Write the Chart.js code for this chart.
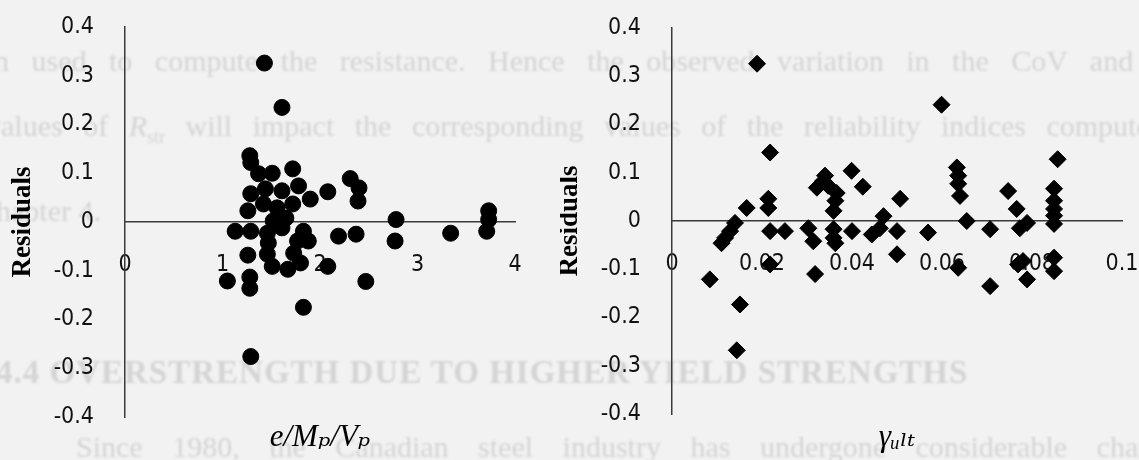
<!DOCTYPE html>
<html>
<head>
<meta charset="utf-8">
<script src="https://cdn.jsdelivr.net/npm/chart.js@4"></script>
<style>
  html, body { margin: 0; padding: 0; background: #f2f2f2; }
  #sheet { position: relative; width: 1139px; height: 460px; overflow: hidden; background: #f2f2f2; }
  .bleed { position: absolute; white-space: nowrap; font-family: "Liberation Serif", serif; font-size: 30px;
           color: #d4d4d4; filter: blur(0.8px); line-height: 1; }
  .bleed.bold { font-weight: bold; font-size: 33px; letter-spacing: 1px; }
  .panel { position: absolute; top: 0; height: 460px; }
</style>
</head>
<body>
<div id="sheet">
  <div class="bleed" style="left:-6px; top:46px; word-spacing:15px;">n used to compute the resistance. Hence the observed variation in the CoV and</div>
  <div class="bleed" style="left:-14px; top:111px; word-spacing:13px;">values of <i>R</i><sub style="font-size:18px">str</sub> will impact the corresponding values of the reliability indices computed</div>
  <div class="bleed" style="left:-24px; top:196px;">Chapter 4.</div>
  <div class="bleed bold" style="left:-4px; top:356px;">4.4 OVERSTRENGTH DUE TO HIGHER YIELD STRENGTHS</div>
  <div class="bleed" style="left:76px; top:432px; word-spacing:22px;">Since 1980, the Canadian steel industry has undergone considerable changes</div>
  <div class="panel" style="left:0; width:560px;"><canvas id="left"></canvas></div>
  <div class="panel" style="left:560px; width:579px;"><canvas id="right"></canvas></div>
</div>
<script>
// Residuals against normalised eccentricity e/Mp/Vp
const eccX = [1.43, 1.61, 1.28, 1.29, 1.37, 1.51, 1.72, 1.78, 2.08, 2.31, 2.40, 2.39, 1.90, 1.29, 1.44, 1.61,
              1.26, 1.42, 1.56, 1.72, 1.65, 1.52, 1.13, 1.29, 1.46, 1.61, 1.83, 1.47, 1.77, 1.88, 1.46, 1.26,
              1.73, 1.51, 1.67, 1.80, 2.08, 2.19, 2.37, 2.78, 2.77, 1.05, 1.28, 1.28, 2.47, 1.83, 1.29, 3.34,
              3.73, 3.73, 3.71];
const eccResid = [0.326, 0.235, 0.136, 0.122, 0.099, 0.100, 0.109, 0.074, 0.062, 0.089, 0.070, 0.043, 0.047, 0.058, 0.068, 0.064,
                  0.023, 0.037, 0.029, 0.037, 0.008, 0.002, -0.019, -0.019, -0.023, -0.012, -0.019, -0.043, -0.039, -0.039, -0.066, -0.068,
                  -0.064, -0.091, -0.097, -0.084, -0.091, -0.029, -0.025, 0.005, -0.039, -0.121, -0.113, -0.136, -0.122, -0.175, -0.276, -0.023,
                  0.023, 0.005, -0.019];

// Residuals against ultimate rotation gamma_ult
const gamX = [0.0189, 0.0599, 0.0218, 0.0857, 0.0399, 0.0424, 0.0633, 0.0636, 0.0636, 0.0640, 0.0747, 0.0766, 0.0789, 0.0773,
              0.0849, 0.0849, 0.0849, 0.0849, 0.0849, 0.0849, 0.0849, 0.0789, 0.0780, 0.0769, 0.0707, 0.0707, 0.0655, 0.0636,
              0.0569, 0.0507, 0.0500, 0.0500, 0.0470, 0.0462, 0.0444, 0.0400, 0.0336, 0.0322, 0.0347, 0.0366, 0.0363, 0.0359,
              0.0359, 0.0359, 0.0363, 0.0303, 0.0314, 0.0318, 0.0251, 0.0218, 0.0214, 0.0214, 0.0218, 0.0166, 0.0140, 0.0129,
              0.0118, 0.0110, 0.0084, 0.0151, 0.0144, 0.0340];
const gamResid = [0.326, 0.241, 0.142, 0.128, 0.104, 0.071, 0.111, 0.094, 0.077, 0.052, 0.062, 0.025, -0.004, -0.015,
                  0.067, 0.042, 0.025, 0.011, -0.006, -0.076, -0.104, -0.121, -0.083, -0.090, -0.135, -0.017, 0.000, -0.097,
                  -0.024, 0.046, -0.021, -0.069, 0.010, -0.015, -0.028, -0.021, 0.083, 0.069, 0.073, 0.058, 0.042, 0.021,
                  -0.017, -0.035, -0.046, -0.015, -0.042, -0.110, -0.021, -0.021, 0.046, 0.027, -0.090, 0.027, -0.004, -0.021,
                  -0.035, -0.046, -0.121, -0.173, -0.268, 0.094];

const residTicks = ['-0.4', '-0.3', '-0.2', '-0.1', '0', '0.1', '0.2', '0.3', '0.4'];
const eccTicks = ['0', '1', '2', '3', '4'];
const gamTicks = ['0', '0.02', '0.04', '0.06', '0.08', '0.1'];

const axisColor = '#3a3a3a';
const tickFont = { family: "'DejaVu Sans Condensed', 'DejaVu Sans', sans-serif", size: 23 };
const titleFontX = { family: "'Liberation Serif', 'DejaVu Serif', serif", size: 31, style: 'italic' };

function pairs(xs, ys) { return xs.map((x, i) => ({ x: x, y: ys[i] })); }

// keep the plot area fixed: no automatic edge padding for end labels
function noEdgePad(s) { s.paddingLeft = 0; s.paddingRight = 0; s.paddingTop = 0; s.paddingBottom = 0; }

function buildChart(canvasId, cfg) {
  return new Chart(document.getElementById(canvasId), {
    type: 'scatter',
    data: {
      datasets: [{
        data: pairs(cfg.xs, cfg.ys),
        xAxisID: 'x', yAxisID: 'y',
        pointStyle: cfg.pointStyle,
        pointRadius: cfg.radius,
        pointBorderWidth: 1,
        backgroundColor: '#000',
        borderColor: '#000'
      }]
    },
    options: {
      responsive: true,
      maintainAspectRatio: false,
      animation: false,
      events: [],
      layout: { padding: { top: cfg.top, right: cfg.right, left: 0, bottom: 0 } },
      plugins: { legend: { display: false }, tooltip: { enabled: false } },
      scales: {
        x: {
          type: 'linear',
          position: { y: 0 },
          min: cfg.xMin, max: cfg.xMax,
          grid: { display: false, drawTicks: false, tickLength: 0 },
          border: { display: true, color: axisColor, width: 1.5 },
          ticks: {
            stepSize: cfg.xStep, autoSkip: false, maxRotation: 0, padding: 29,
            color: '#111', font: tickFont,
            callback: (v, i) => cfg.xLabels[i]
          },
          afterFit: noEdgePad
        },
        xt: {
          type: 'linear',
          axis: 'x',
          position: 'bottom',
          grid: { display: false, drawTicks: false },
          border: { display: false },
          ticks: { display: false },
          title: { display: true, text: cfg.xTitle, color: '#000', font: titleFontX, padding: { top: 0, bottom: 4 } },
          afterFit: (s) => { noEdgePad(s); s.height = cfg.bottom; }
        },
        y: {
          type: 'linear',
          position: 'left',
          min: -0.4, max: 0.4,
          grid: { display: false, drawTicks: false, tickLength: 0 },
          border: { display: true, color: axisColor, width: 1.5 },
          ticks: {
            stepSize: 0.1, autoSkip: false, padding: 31,
            color: '#111', font: tickFont,
            callback: (v, i) => residTicks[i]
          },
          title: {
            display: true, text: 'Residuals', color: '#000',
            font: { family: "'Liberation Serif', serif", size: 27, weight: 'bold', lineHeight: 0.75 },
            padding: { top: cfg.titlePad, bottom: 0 }
          },
          afterFit: (s) => { noEdgePad(s); s.width = cfg.left; }
        }
      }
    }
  });
}

buildChart('left', {
  xs: eccX, ys: eccResid, xMin: 0, xMax: 4, xStep: 1, xLabels: eccTicks,
  xTitle: 'e/Mₚ/Vₚ', pointStyle: 'circle', radius: 8,
  top: 27, right: 45, bottom: 43, left: 125, titlePad: 13
});

buildChart('right', {
  xs: gamX, ys: gamResid, xMin: 0, xMax: 0.1, xStep: 0.02, xLabels: gamTicks,
  xTitle: 'γᵤₗₜ', pointStyle: 'rectRot', radius: 8.5,
  top: 28, right: 17, bottom: 46, left: 112, titlePad: 0
});
</script>
</body>
</html>
